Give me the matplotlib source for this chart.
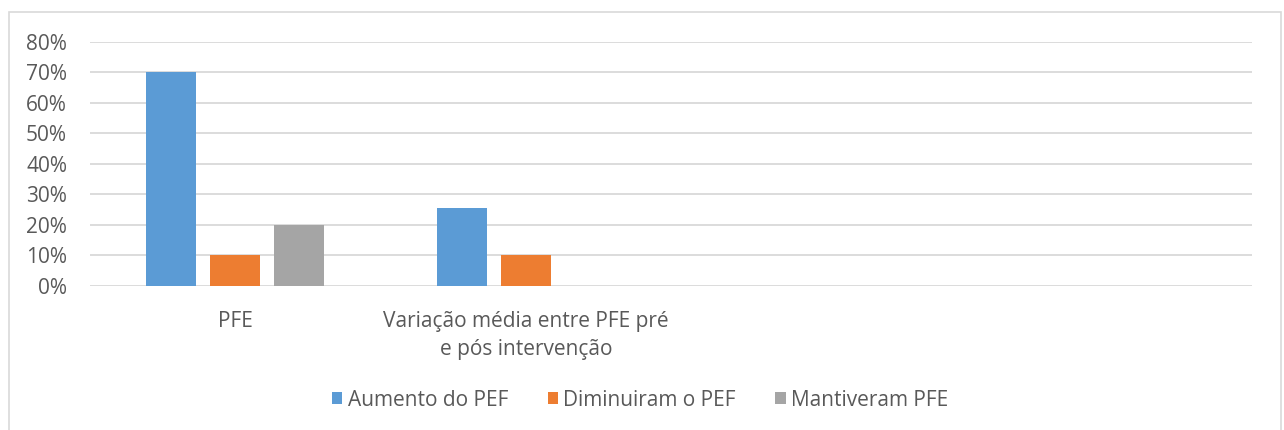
import matplotlib.pyplot as plt
from matplotlib.patches import Rectangle
from matplotlib.ticker import PercentFormatter
import numpy as np

categories = ["PFE", "Variação média entre PFE pré\ne pós intervenção", "", ""]
aumento = [0.70, 0.256, 0, 0]
diminuiram = [0.10, 0.10, 0, 0]
mantiveram = [0.20, 0, 0, 0]
series_names = ["Aumento do PEF", "Diminuiram o PEF", "Mantiveram PFE"]
colors = ["#5B9BD5", "#ED7D31", "#A5A5A5"]
yticks = [0, 0.1, 0.2, 0.3, 0.4, 0.5, 0.6, 0.7, 0.8]


def main():
    plt.rcParams['font.family'] = ['Open Sans', 'DejaVu Sans']
    fig = plt.figure(figsize=(12.84, 4.30), dpi=100)
    # light frame around the whole chart like Excel
    fig.patches.append(Rectangle((9 / 1284, -0.05), 1272 / 1284, 1 - 12 / 430 + 0.05,
                                 transform=fig.transFigure, fill=False,
                                 edgecolor="#D9D9D9", linewidth=1.2))
    ax = fig.add_axes([90 / 1284, 1 - 286 / 430, (1252 - 90) / 1284, (286 - 41.7) / 430])

    x = np.arange(len(categories))
    width = 0.173
    step = 0.22
    for i, (vals, name) in enumerate(zip([aumento, diminuiram, mantiveram], series_names)):
        ax.bar(x + (i - 1) * step, vals, width, color=colors[i], label=name, zorder=3)

    ax.set_xlim(-0.5, len(categories) - 0.5)
    ax.set_ylim(0, 0.8)
    ax.set_yticks(yticks)
    ax.yaxis.set_major_formatter(PercentFormatter(1.0, decimals=0))
    ax.set_xticks(x)
    ax.set_xticklabels(categories, linespacing=1.45)
    ax.grid(axis="y", color="#D9D9D9", linewidth=1.3, zorder=0)
    for s in ax.spines.values():
        s.set_visible(False)
    ax.tick_params(axis="both", length=0, labelsize=15, colors="#595959")
    ax.tick_params(axis="x", pad=18)
    ax.tick_params(axis="y", pad=16.5)

    leg = fig.legend(loc="center", bbox_to_anchor=(640 / 1284, 1 - 400 / 430), ncol=3,
                     frameon=False, fontsize=15, handlelength=0.5, handleheight=0.5,
                     handletextpad=0.25, columnspacing=1.9)
    for t in leg.get_texts():
        t.set_color("#595959")

    fig.savefig("out.png", dpi=100)


if __name__ == "__main__":
    main()
